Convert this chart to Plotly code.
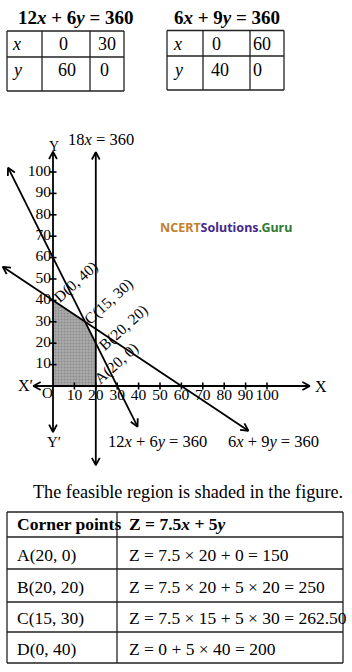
import math
import plotly.graph_objects as go

W, H = 352, 672
# pixel mapping of the graph (origin pixel and px per unit)
OX, OY, K = 53.0, 386.0, 2.14

# ---------------- data ----------------
tbl1_title = "12<i>x</i> + 6<i>y</i> = 360"
tbl1_x = ["0", "30"]
tbl1_y = ["60", "0"]
tbl2_title = "6<i>x</i> + 9<i>y</i> = 360"
tbl2_x = ["0", "60"]
tbl2_y = ["40", "0"]

x_ticks = [10, 20, 30, 40, 50, 60, 70, 80, 90, 100]
y_ticks = [10, 20, 30, 40, 50, 60, 70, 80, 90, 100]

# line 12x + 6y = 360 (drawn segment endpoints)
l1_x = [-21.0, 39.5]
l1_y = [102.0, -19.0]
# line 6x + 9y = 360
l2_x = [-23.5, 91.3]
l2_y = [55.7, -20.9]
# line 18x = 360 (x = 20)
l3_x = [20, 20]
l3_y = [109.3, -37.0]
# axes extents
xaxis_ext = [-9.2, 120.0]
yaxis_ext = [-21.5, 109.5]

# feasible region corners O, A, B, C, D
region_x = [0, 20, 20, 15, 0]
region_y = [0, 0, 20, 30, 40]
corner_names = ["A(20, 0)", "B(20, 20)", "C(15, 30)", "D(0, 40)"]
corner_pts = [(20, 0), (20, 20), (15, 30), (0, 40)]
corner_z = ["Z = 7.5 × 20 + 0 = 150",
            "Z = 7.5 × 20 + 5 × 20 = 250",
            "Z = 7.5 × 15 + 5 × 30 = 262.50",
            "Z = 0 + 5 × 40 = 200"]

SERIF = "Liberation Serif, Times New Roman, serif"

fig = go.Figure()

def P(x, y):
    return x / W, 1 - y / H

# ---------------- graph ----------------
# shaded region
fig.add_trace(go.Scatter(
    x=region_x + [region_x[0]], y=region_y + [region_y[0]],
    mode="lines", line=dict(width=0), fill="toself",
    fillcolor="#a6a6a6",
    fillpattern=dict(shape=".", size=3, solidity=0.4, fgcolor="#6e6e6e", bgcolor="#ababab"),
    hoverinfo="skip", showlegend=False))

def seg(xs, ys, w=1.8):
    fig.add_trace(go.Scatter(x=xs, y=ys, mode="lines",
                             line=dict(color="black", width=w),
                             hoverinfo="skip", showlegend=False))

seg(xaxis_ext, [0, 0])
seg([0, 0], yaxis_ext)
seg(l3_x, l3_y)
seg(l1_x, l1_y)
seg(l2_x, l2_y)

# arrowheads (open V)
def head(tx, ty, dx, dy, L=3.9, ang=28):
    n = math.hypot(dx, dy)
    ux, uy = dx / n, dy / n
    out_x, out_y = [], []
    for s in (1, -1):
        a = math.radians(ang) * s
        rx = ux * math.cos(a) - uy * math.sin(a)
        ry = ux * math.sin(a) + uy * math.cos(a)
        out_x.append(tx - L * rx)
        out_y.append(ty - L * ry)
    return [out_x[0], tx, out_x[1], None], [out_y[0], ty, out_y[1], None]

hx, hy = [], []
for (tx, ty, dx, dy) in [
    (xaxis_ext[1], 0, 1, 0), (xaxis_ext[0], 0, -1, 0),
    (0, yaxis_ext[1], 0, 1), (0, yaxis_ext[0], 0, -1),
    (l3_x[0], l3_y[0], 0, 1), (l3_x[1], l3_y[1], 0, -1),
    (l1_x[0], l1_y[0], l1_x[0] - l1_x[1], l1_y[0] - l1_y[1]),
    (l1_x[1], l1_y[1], l1_x[1] - l1_x[0], l1_y[1] - l1_y[0]),
    (l2_x[0], l2_y[0], l2_x[0] - l2_x[1], l2_y[0] - l2_y[1]),
    (l2_x[1], l2_y[1], l2_x[1] - l2_x[0], l2_y[1] - l2_y[0]),
]:
    a, b = head(tx, ty, dx, dy)
    hx += a
    hy += b
fig.add_trace(go.Scatter(x=hx, y=hy, mode="lines", line=dict(color="black", width=1.8),
                         hoverinfo="skip", showlegend=False))

# tick marks
fig.add_trace(go.Scatter(x=x_ticks, y=[0] * len(x_ticks), mode="markers",
                         marker=dict(symbol="line-ns", size=5, line=dict(width=1.6, color="black")),
                         hoverinfo="skip", showlegend=False))
fig.add_trace(go.Scatter(x=[0] * len(y_ticks), y=y_ticks, mode="markers",
                         marker=dict(symbol="line-ew", size=5, line=dict(width=1.6, color="black")),
                         hoverinfo="skip", showlegend=False))
# tick labels
fig.add_trace(go.Scatter(x=x_ticks, y=[-4.7] * len(x_ticks), mode="text",
                         text=[str(v) for v in x_ticks], textposition="middle center",
                         textfont=dict(family=SERIF, size=15.5, color="black"),
                         hoverinfo="skip", showlegend=False))
fig.add_trace(go.Scatter(x=[-0.9] * len(y_ticks), y=y_ticks, mode="text",
                         text=[str(v) for v in y_ticks], textposition="middle left",
                         textfont=dict(family=SERIF, size=15.5, color="black"),
                         hoverinfo="skip", showlegend=False))

ann = []
def text(x, y, t, size=16, xanchor="center", bold=False, angle=0, color="black", family=SERIF):
    px, py = P(x, y)
    if bold:
        t = "<b>" + t + "</b>"
    ann.append(dict(xref="paper", yref="paper", x=px, y=py, text=t, showarrow=False,
                    xanchor=xanchor, yanchor="middle", textangle=angle,
                    font=dict(family=family, size=size, color=color)))

# corner labels near points
shifts = [(21, 23), (27.5, 15), (23, 20), (23, 18)]
for name, (cx, cy), (sx, sy) in zip(corner_names, corner_pts, shifts):
    ann.append(dict(x=cx, y=cy, xref="x", yref="y", text=name, showarrow=False,
                    xshift=sx, yshift=sy, textangle=-42, xanchor="center", yanchor="middle",
                    font=dict(family=SERIF, size=15.5, color="black")))

text(101, 139, "18<i>x</i> = 360", 16.5)
text(157, 441, "12<i>x</i> + 6<i>y</i> = 360", 16.5)
text(273, 441, "6<i>x</i> + 9<i>y</i> = 360", 16.5)
text(53.5, 146, "Y", 14)
text(54.5, 442, "Y′", 15)
text(25, 385, "X′", 16)
text(321, 386, "X", 16)
text(47.5, 393, "O", 15)

# watermark
text(226, 227,
     "<b><span style='color:#c4802c'>NCERT</span><span style='color:#46298c'>Solutions</span>"
     "<span style='color:#2d7b34'>.Guru</span></b>",
     12.5, family="Noto Sans, Open Sans, sans-serif")

# ---------------- top tables ----------------
shapes = []
def hline(x0, x1, y, w=1.3):
    a, b = P(x0, y); c, _ = P(x1, y)
    shapes.append(dict(type="line", xref="paper", yref="paper", x0=a, x1=c, y0=b, y1=b,
                       line=dict(color="#222", width=w)))
def vline(x, y0, y1, w=1.3):
    a, b = P(x, y0); _, d = P(x, y1)
    shapes.append(dict(type="line", xref="paper", yref="paper", x0=a, x1=a, y0=b, y1=d,
                       line=dict(color="#222", width=w)))

def small_table(x0, xc1, xc2, x1, y0, ym, y1):
    for y in (y0, ym, y1):
        hline(x0, x1, y)
    for x in (x0, xc1, xc2, x1):
        vline(x, y0, y1)

small_table(7, 42, 90, 124, 31, 57, 91)
small_table(167, 203, 250, 284, 30.5, 56, 90)

text(76, 17, tbl1_title, 19, bold=True)
text(227, 17, tbl2_title, 19, bold=True)

text(10, 43.5, "<i>x</i>", 18, xanchor="left")
text(10, 70, "<i>y</i>", 18, xanchor="left")
text(63, 43.5, tbl1_x[0], 18)
text(107, 43.5, tbl1_x[1], 18)
text(67, 70, tbl1_y[0], 18)
text(104, 70, tbl1_y[1], 18)

text(171, 43.5, "<i>x</i>", 18, xanchor="left")
text(171, 70, "<i>y</i>", 18, xanchor="left")
text(216, 43.5, tbl2_x[0], 18)
text(262, 43.5, tbl2_x[1], 18)
text(219.5, 70, tbl2_y[0], 18)
text(257.5, 70, tbl2_y[1], 18)

# ---------------- bottom text and table ----------------
text(188, 492, "The feasible region is shaded in the figure.", 18.2)
rows = [512, 537, 569, 602, 632, 663]
for y in rows:
    hline(7, 343, y)
for x in (7, 117, 343):
    vline(x, rows[0], rows[-1])

text(15, 524, "Corner points", 17.5, xanchor="left", bold=True)
text(127, 524, "Z = 7.5<i>x</i> + 5<i>y</i>", 17.5, xanchor="left", bold=True)
row_y = [554.5, 586.5, 618, 649]
for name, z, ry in zip(corner_names, corner_z, row_y):
    text(15, ry, name, 17.5, xanchor="left")
    text(127, ry, z, 17.5, xanchor="left")

fig.update_layout(
    width=W, height=H, margin=dict(l=0, r=0, t=0, b=0),
    paper_bgcolor="white", plot_bgcolor="white",
    xaxis=dict(visible=False, range=[-OX / K, (W - OX) / K], domain=[0, 1], fixedrange=True),
    yaxis=dict(visible=False, range=[(OY - H) / K, OY / K], domain=[0, 1], fixedrange=True),
    annotations=ann, shapes=shapes, showlegend=False,
)

fig.write_html("out.html")
